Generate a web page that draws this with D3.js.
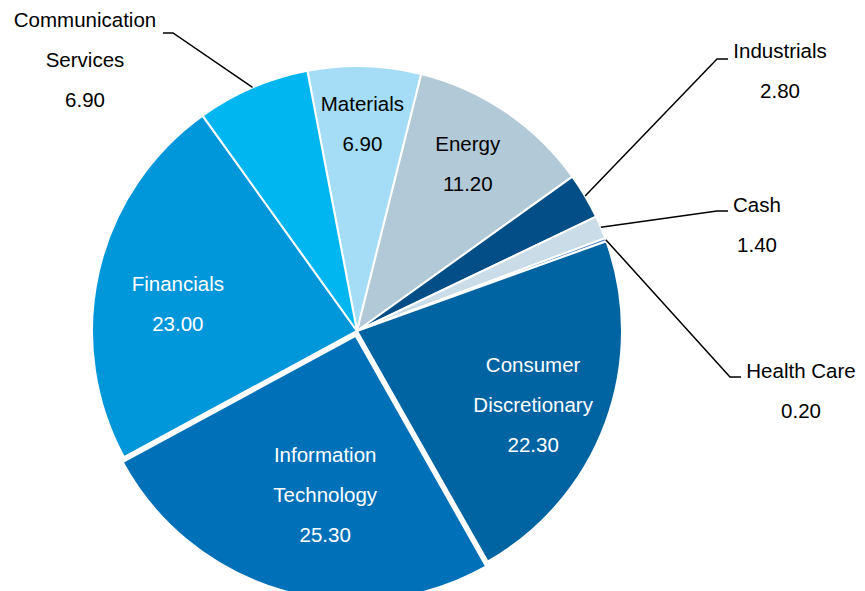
<!DOCTYPE html>
<html>
<head>
<meta charset="utf-8">
<script src="https://cdn.jsdelivr.net/npm/d3@7"></script>
<style>
  html, body { margin: 0; padding: 0; background: #ffffff; }
  svg { display: block; }
  text { font-family: "Liberation Sans", Arial, sans-serif; font-size: 20.5px; }
</style>
</head>
<body>
<svg id="chart" width="865" height="591"></svg>
<script>
// Sector weights (%)
const categories = ["Materials", "Energy", "Industrials", "Cash", "Health Care",
  "Consumer Discretionary", "Information Technology", "Financials", "Communication Services"];
const weights = [6.90, 11.20, 2.80, 1.40, 0.20, 22.30, 25.30, 23.00, 6.90];
const sliceColors = ["#a6ddf6", "#b2c9d7", "#034e86", "#c9dce8", "#5889c9",
  "#0063a2", "#0071b9", "#0096da", "#00b6f0"];

const data = categories.map((c, i) => ({ name: c, value: weights[i], color: sliceColors[i] }));

const W = 865, H = 591;
const cx = 357, cy = 331, R = 265;
const deg = Math.PI / 180;
const lineGap = 40;

const svg = d3.select("#chart");
const g = svg.append("g").attr("transform", `translate(${cx},${cy})`);

const pie = d3.pie().sort(null).value(d => d.value)
  .startAngle(-10.8 * deg).endAngle(-10.8 * deg + 2 * Math.PI);
const arcs = pie(data);
const arc = d3.arc().innerRadius(0).outerRadius(R);

// slices pulled out from the centre
const explode = { "Information Technology": 5 };
const midA = a => (a.startAngle + a.endAngle) / 2;
const polar = (ang, r) => [r * Math.sin(ang), -r * Math.cos(ang)];

g.selectAll("path.slice").data(arcs).join("path")
  .attr("class", "slice")
  .attr("d", arc)
  .attr("fill", d => d.data.color)
  .attr("stroke", "#ffffff")
  .attr("stroke-width", 2)
  .attr("stroke-linejoin", "round")
  .attr("transform", d => {
    const e = explode[d.data.name] || 0;
    const [x, y] = polar(midA(d), e);
    return `translate(${x},${y})`;
  });

const fmt = d3.format(".2f");
const wrapName = n => n.length > 12 ? n.split(" ") : [n];

// labels inside the slices
const inside = {
  "Materials":              { dx: 0,  dy: -17, fill: "#000000" },
  "Energy":                 { dx: 4,  dy: -10, fill: "#000000" },
  "Consumer Discretionary": { dx: -2, dy: 8,   fill: "#ffffff" },
  "Information Technology": { dx: 22, dy: -23, fill: "#ffffff" },
  "Financials":             { dx: 6,  dy: 16,  fill: "#ffffff" }
};
const labelR = 190;

arcs.filter(a => inside[a.data.name]).forEach(a => {
  const cfg = inside[a.data.name];
  const e = explode[a.data.name] || 0;
  const [x0, y0] = polar(midA(a), labelR + e);
  const lines = wrapName(a.data.name).concat([fmt(a.data.value)]);
  const bx = x0 + cfg.dx, by = y0 + cfg.dy;
  const first = by - (lines.length - 1) * lineGap / 2 + 7;
  const t = g.append("text").attr("text-anchor", "middle").attr("fill", cfg.fill);
  lines.forEach((s, i) => t.append("tspan").attr("x", bx).attr("y", first + i * lineGap).text(s));
});

// labels outside the pie with leader lines (page coordinates)
const outside = {
  "Communication Services": { elbow: [173, 33], end: [163, 33], tx: 85,  base: 27 },
  "Industrials":            { elbow: [717, 59], end: [728, 59], tx: 780, base: 58 },
  "Cash":                   { elbow: [717, 211], end: [728, 211], tx: 757, base: 212 },
  "Health Care":            { elbow: [730, 377], end: [741, 377], tx: 801, base: 378 }
};

arcs.filter(a => outside[a.data.name]).forEach(a => {
  const cfg = outside[a.data.name];
  const [ax, ay] = polar(midA(a), R);
  const pts = [[cx + ax, cy + ay], cfg.elbow, cfg.end];
  svg.append("path")
    .attr("d", d3.line()(pts))
    .attr("fill", "none")
    .attr("stroke", "#000000")
    .attr("stroke-width", 1.5);
  const lines = wrapName(a.data.name).concat([fmt(a.data.value)]);
  const t = svg.append("text").attr("text-anchor", "middle").attr("fill", "#000000");
  lines.forEach((s, i) => t.append("tspan").attr("x", cfg.tx).attr("y", cfg.base + i * lineGap).text(s));
});
</script>
</body>
</html>
